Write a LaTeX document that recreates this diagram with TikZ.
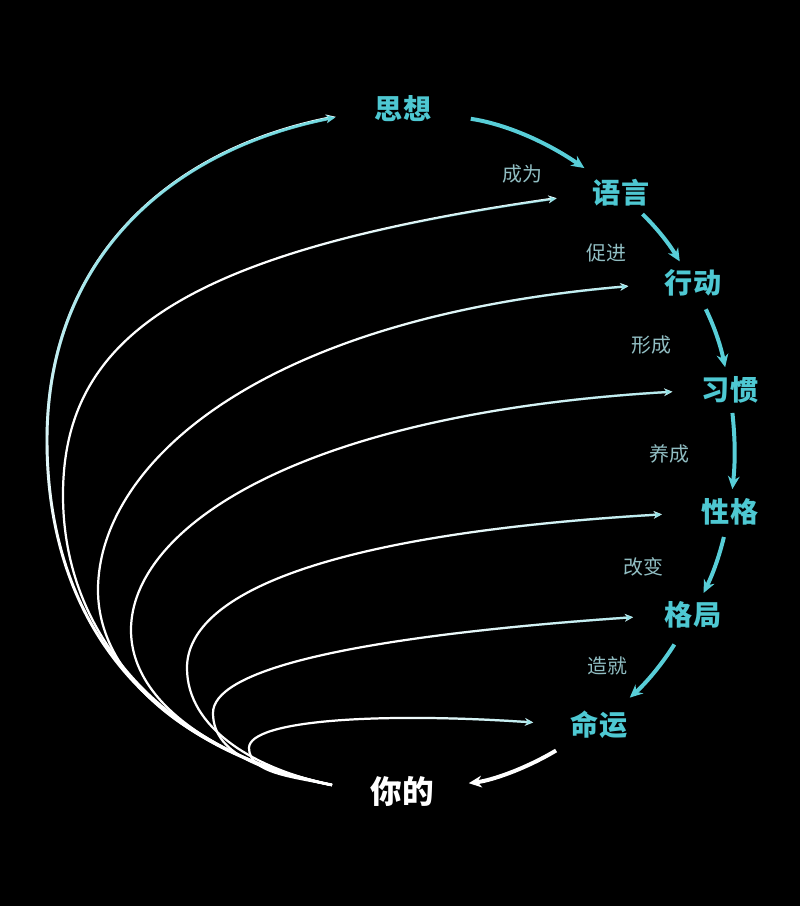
\documentclass[tikz,border=0pt]{standalone}
\usepackage{fontspec}
\newfontfamily\cjk{Noto Sans CJK SC}
\usetikzlibrary{arrows.meta,fadings}

\definecolor{wordcyan}{RGB}{78,200,210}
\definecolor{flowcyan}{RGB}{88,206,216}
\definecolor{tipcyan}{RGB}{100,214,222}
\definecolor{verbgray}{RGB}{145,190,195}

\begin{tikzfadingfrompicture}[name=tail fade]
  \fill[transparent!100] (-50bp,-50bp) rectangle (50bp,50bp);
  \shade[left color=transparent!100, right color=transparent!0] (-5bp,-50bp) rectangle (50bp,50bp);
\end{tikzfadingfrompicture}
\begin{tikzfadingfrompicture}[name=top fade]
  \fill[transparent!0] (-50bp,28bp) rectangle (50bp,50bp);
  \shade[top color=transparent!0, bottom color=transparent!100] (-50bp,-8bp) rectangle (50bp,28bp);
  \fill[transparent!100] (-50bp,-50bp) rectangle (50bp,-8bp);
\end{tikzfadingfrompicture}

\tikzset{
  word/.style={font=\cjk\bfseries\fontsize{24}{24}\selectfont, text=wordcyan, inner sep=0pt},
  verb/.style={font=\cjk\fontsize{17}{17}\selectfont, text=verbgray, inner sep=0pt},
  flow/.style={draw=flowcyan, line width=3.4pt, -{Stealth[length=11pt,width=10pt]}},
  feed/.style={draw=white, line width=1.9pt, -{Stealth[length=7pt,width=6.5pt]},
    postaction={draw=tipcyan, path fading=tail fade}},
  outer feed/.style={draw=white, line width=2.5pt, -{Stealth[length=8pt,width=7pt]},
    postaction={draw=tipcyan, path fading=top fade}},
}

\begin{document}
\begin{tikzpicture}[x=0.03cm, y=-0.03cm]
  %%%%% START %%%%%
  \fill[black] (0, 0) rectangle (800, 906);

  \node[word] (thought) at (403, 109) {思想};
  \node[word] (speech) at (621, 193) {语言};
  \node[word] (action) at (693, 283) {行动};
  \node[word] (habit) at (730, 390) {习惯};
  \node[word] (character) at (730, 512) {性格};
  \node[word] (outlook) at (693, 615) {格局};
  \node[word] (fate) at (599, 725) {命运};
  \node[word, text=white, font=\cjk\bfseries\fontsize{27}{27}\selectfont] (you) at (402, 791) {你的};

  \node[verb] (v1) at (522, 174) {成为};
  \node[verb] (v2) at (606, 253) {促进};
  \node[verb] (v3) at (651, 345) {形成};
  \node[verb] (v4) at (669, 454) {养成};
  \node[verb] (v5) at (643, 567) {改变};
  \node[verb] (v6) at (607, 666) {造就};

  \coordinate (root) at (332, 785);

  % the sheaf of curves from "you"
  \draw[feed, shorten >=32pt] (root) .. controls (293, 777) and (249, 773) .. (249, 748) .. controls (249, 720) and (380, 712) .. (fate.west);
  \draw[feed, shorten >=27pt] (root) .. controls (273, 773) and (213, 758) .. (213, 713) .. controls (213, 673) and (333, 638) .. (outlook.west);
  \draw[feed, shorten >=34pt] (root) .. controls (254, 769) and (187, 728) .. (187, 668) .. controls (187, 598) and (312, 535) .. (character.west);
  \draw[feed, shorten >=25pt] (root) .. controls (234, 765) and (131, 710) .. (131, 630) .. controls (131, 530) and (293, 414) .. (habit.west);
  \draw[feed, shorten >=31pt] (root) .. controls (214, 761) and (98, 690) .. (98, 590) .. controls (98, 470) and (248, 319) .. (action.west);
  \draw[feed, shorten >=31pt] (root) .. controls (175, 753) and (63, 645) .. (63, 495) .. controls (63, 335) and (187, 251) .. (speech.west);
  \draw[outer feed, shorten >=34pt] (root) .. controls (146, 747) and (47, 620) .. (47, 440) .. controls (47, 260) and (168, 150) .. (thought.west);

  % the ring
  \draw[flow, shorten <=34pt, shorten >=17pt] (thought) to[bend left=13] (speech);
  \draw[flow, shorten <=9pt, shorten >=8pt] (speech) to[bend left=7] (action);
  \draw[flow, shorten <=12pt, shorten >=8pt] (action) to[bend left=7] (habit);
  \draw[flow, shorten <=8pt, shorten >=8pt] (habit) to[bend left=6] (character);
  \draw[flow, shorten <=10pt, shorten >=8pt] (character) to[bend left=6] (outlook);
  \draw[flow, shorten <=16pt, shorten >=17pt] (outlook) to[bend left=8] (fate);
  \draw[flow, draw=white, shorten <=19pt, shorten >=30pt] (fate) to[bend left=12] (you);
  %%%%% END %%%%%
\end{tikzpicture}
\end{document}
